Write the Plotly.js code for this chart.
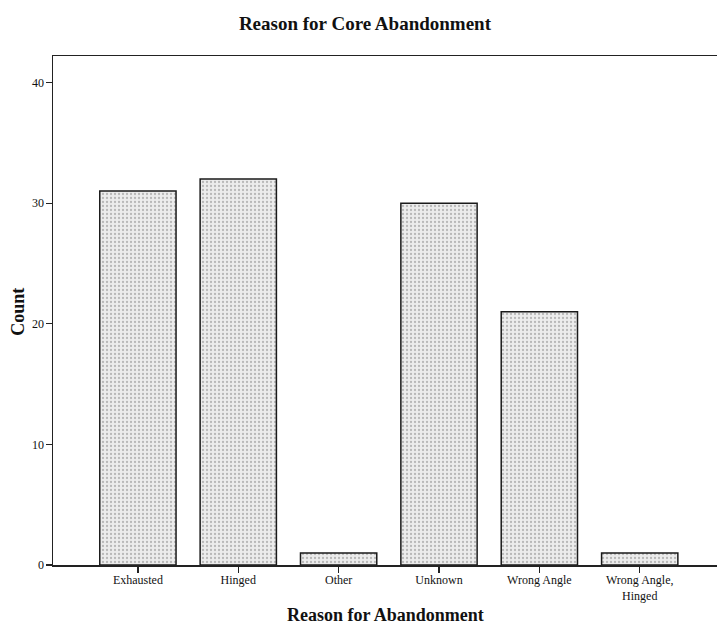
<!DOCTYPE html>
<html>
<head>
<meta charset="utf-8">
<script src="https://cdn.plot.ly/plotly-3.0.1.min.js"></script>
<style>html,body{margin:0;padding:0;background:#fff;}#chart{width:717px;height:624px;}</style>
</head>
<body>
<div id="chart"></div>
<script>
const categories = ["Exhausted", "Hinged", "Other", "Unknown", "Wrong Angle", "Wrong Angle,<br>Hinged"];
const counts = [31, 32, 1, 30, 21, 1];
const yTicks = [0, 10, 20, 30, 40];

const font = "Liberation Serif, Times New Roman, serif";

const data = [{
  type: "bar",
  x: categories.map((c, i) => i),
  y: counts,
  width: 0.76,
  marker: {
    color: "#e6e6e6",
    line: {color: "#1a1a1a", width: 1.5},
    pattern: {shape: ".", fgcolor: "#b8b8b8", bgcolor: "#ececec", size: 4, solidity: 0.25}
  },
  hoverinfo: "none"
}];

const layout = {
  width: 717, height: 624,
  margin: {l: 53, r: 0, t: 56, b: 59},
  paper_bgcolor: "#fff", plot_bgcolor: "#fff",
  showlegend: false,
  font: {family: font, color: "#111", size: 12},
  title: {text: "<b>Reason for Core Abandonment</b>", x: 0.509, xanchor: "center", y: 0.962, yanchor: "middle", font: {family: font, size: 19, color: "#111"}},
  xaxis: {
    range: [-0.846, 5.77],
    tickmode: "array",
    tickvals: categories.map((c, i) => i),
    ticktext: categories,
    ticks: "outside", ticklen: 6, tickwidth: 1.2, tickcolor: "#222",
    ticklabelstandoff: -3,
    showline: true, linecolor: "#222", linewidth: 1.5, mirror: true,
    showgrid: false, zeroline: false,
    tickfont: {family: font, size: 12, color: "#111"}
  },
  yaxis: {
    range: [0, 42.2],
    tickmode: "array",
    tickvals: yTicks,
    ticktext: yTicks.map(String),
    ticks: "outside", ticklen: 6, tickwidth: 1.2, tickcolor: "#222",
    ticklabelstandoff: -1,
    showline: true, linecolor: "#222", linewidth: 1.5,
    showgrid: false, zeroline: false,
    tickfont: {family: font, size: 12, color: "#111"}
  },
  annotations: [
    {text: "<b>Reason for Abandonment</b>", xref: "paper", yref: "paper", x: 0.5, y: -0.098, xanchor: "center", yanchor: "middle", showarrow: false, font: {family: font, size: 18, color: "#111"}},
    {text: "<b>Count</b>", xref: "paper", yref: "paper", x: -0.053, y: 0.497, xanchor: "center", yanchor: "middle", textangle: -90, showarrow: false, font: {family: font, size: 18, color: "#111"}}
  ]
};

Plotly.newPlot("chart", data, layout, {staticPlot: true});
</script>
</body>
</html>
